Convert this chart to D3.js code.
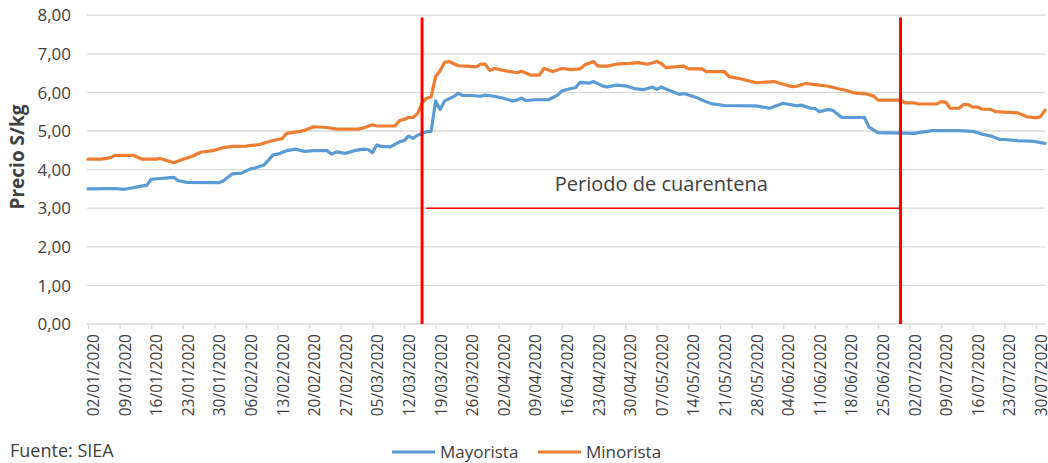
<!DOCTYPE html>
<html><head><meta charset="utf-8">
<script src="https://cdn.jsdelivr.net/npm/d3@7"></script>
<style>
html,body{margin:0;padding:0;background:#fff;}
svg{display:block;}
text{font-family:"Open Sans","DejaVu Sans",sans-serif;fill:#404040;}
</style></head>
<body>
<svg id="chart" width="1048" height="463"></svg>
<script>
const yTicks = [0,1,2,3,4,5,6,7,8];
const xTickLabels = ["02/01/2020","09/01/2020","16/01/2020","23/01/2020","30/01/2020","06/02/2020","13/02/2020","20/02/2020","27/02/2020","05/03/2020","12/03/2020","19/03/2020","26/03/2020","02/04/2020","09/04/2020","16/04/2020","23/04/2020","30/04/2020","07/05/2020","14/05/2020","21/05/2020","28/05/2020","04/06/2020","11/06/2020","18/06/2020","25/06/2020","02/07/2020","09/07/2020","16/07/2020","23/07/2020","30/07/2020"];
const dateDomain = ["2020-01-02","2020-08-01"];
const cuarentena = ["2020-03-16","2020-06-30"];
const cuarentenaNivel = 3;
const seriesNames = ["Mayorista","Minorista"];

const mayorista = [
["2020-01-02",3.50],["2020-01-08",3.51],["2020-01-10",3.49],["2020-01-12",3.53],["2020-01-14",3.58],["2020-01-15",3.59],
["2020-01-16",3.75],["2020-01-18",3.77],["2020-01-21",3.80],["2020-01-22",3.71],["2020-01-24",3.67],["2020-01-31",3.66],
["2020-02-01",3.71],["2020-02-03",3.89],["2020-02-05",3.91],["2020-02-07",4.02],["2020-02-08",4.04],["2020-02-10",4.12],
["2020-02-12",4.38],["2020-02-13",4.40],["2020-02-15",4.49],["2020-02-17",4.53],["2020-02-19",4.47],["2020-02-21",4.49],
["2020-02-24",4.49],["2020-02-25",4.40],["2020-02-26",4.46],["2020-02-28",4.42],["2020-03-01",4.49],["2020-03-03",4.53],
["2020-03-04",4.52],["2020-03-05",4.44],["2020-03-06",4.64],["2020-03-07",4.60],["2020-03-09",4.59],["2020-03-11",4.72],
["2020-03-12",4.75],["2020-03-13",4.87],["2020-03-14",4.81],["2020-03-15",4.89],["2020-03-17",4.98],["2020-03-18",4.99],
["2020-03-19",5.78],["2020-03-20",5.56],["2020-03-21",5.78],["2020-03-23",5.89],["2020-03-24",5.98],["2020-03-25",5.92],
["2020-03-27",5.92],["2020-03-29",5.90],["2020-03-30",5.93],["2020-04-01",5.90],["2020-04-03",5.85],["2020-04-05",5.78],
["2020-04-06",5.80],["2020-04-07",5.85],["2020-04-08",5.79],["2020-04-10",5.81],["2020-04-13",5.81],["2020-04-15",5.93],
["2020-04-16",6.04],["2020-04-18",6.10],["2020-04-19",6.12],["2020-04-20",6.26],["2020-04-22",6.24],["2020-04-23",6.28],
["2020-04-25",6.17],["2020-04-26",6.14],["2020-04-28",6.19],["2020-04-30",6.17],["2020-05-02",6.10],["2020-05-04",6.07],
["2020-05-06",6.14],["2020-05-07",6.08],["2020-05-08",6.14],["2020-05-10",6.04],["2020-05-12",5.95],["2020-05-13",5.97],
["2020-05-16",5.86],["2020-05-17",5.80],["2020-05-19",5.71],["2020-05-22",5.66],["2020-05-29",5.65],["2020-06-01",5.59],
["2020-06-04",5.72],["2020-06-07",5.65],["2020-06-08",5.67],["2020-06-10",5.59],["2020-06-11",5.59],["2020-06-12",5.50],
["2020-06-14",5.56],["2020-06-15",5.53],["2020-06-17",5.35],["2020-06-22",5.35],["2020-06-23",5.10],["2020-06-25",4.96],
["2020-07-03",4.94],["2020-07-07",5.01],["2020-07-13",5.01],["2020-07-16",4.99],["2020-07-18",4.92],["2020-07-20",4.87],
["2020-07-22",4.78],["2020-07-23",4.78],["2020-07-26",4.75],["2020-07-29",4.74],["2020-08-01",4.68]
];

const minorista = [
["2020-01-02",4.27],["2020-01-05",4.27],["2020-01-07",4.31],["2020-01-08",4.37],["2020-01-12",4.37],["2020-01-14",4.27],
["2020-01-17",4.27],["2020-01-18",4.29],["2020-01-21",4.18],["2020-01-23",4.27],["2020-01-25",4.34],["2020-01-27",4.45],
["2020-01-30",4.50],["2020-02-01",4.57],["2020-02-03",4.60],["2020-02-06",4.61],["2020-02-09",4.65],["2020-02-11",4.72],
["2020-02-13",4.78],["2020-02-14",4.80],["2020-02-15",4.94],["2020-02-18",4.99],["2020-02-19",5.02],["2020-02-21",5.11],
["2020-02-24",5.09],["2020-02-26",5.05],["2020-03-02",5.05],["2020-03-03",5.08],["2020-03-05",5.16],["2020-03-06",5.13],
["2020-03-10",5.13],["2020-03-11",5.27],["2020-03-12",5.30],["2020-03-13",5.35],["2020-03-14",5.35],["2020-03-15",5.45],
["2020-03-16",5.72],["2020-03-17",5.85],["2020-03-18",5.88],["2020-03-19",6.41],["2020-03-20",6.56],["2020-03-21",6.78],
["2020-03-22",6.80],["2020-03-24",6.69],["2020-03-26",6.68],["2020-03-28",6.66],["2020-03-29",6.73],["2020-03-30",6.73],
["2020-03-31",6.57],["2020-04-01",6.62],["2020-04-03",6.57],["2020-04-06",6.51],["2020-04-07",6.55],["2020-04-09",6.45],
["2020-04-11",6.45],["2020-04-12",6.62],["2020-04-14",6.54],["2020-04-16",6.62],["2020-04-18",6.59],["2020-04-20",6.61],
["2020-04-21",6.71],["2020-04-23",6.80],["2020-04-24",6.68],["2020-04-26",6.68],["2020-04-28",6.73],["2020-05-01",6.75],
["2020-05-03",6.77],["2020-05-05",6.73],["2020-05-07",6.80],["2020-05-08",6.75],["2020-05-09",6.64],["2020-05-13",6.68],
["2020-05-14",6.61],["2020-05-17",6.61],["2020-05-18",6.54],["2020-05-22",6.54],["2020-05-23",6.41],["2020-05-26",6.34],
["2020-05-29",6.25],["2020-06-02",6.28],["2020-06-04",6.21],["2020-06-06",6.15],["2020-06-07",6.16],["2020-06-09",6.23],
["2020-06-12",6.19],["2020-06-14",6.16],["2020-06-16",6.10],["2020-06-18",6.05],["2020-06-20",5.98],["2020-06-22",5.97],
["2020-06-24",5.91],["2020-06-25",5.80],["2020-06-30",5.80],["2020-07-01",5.73],["2020-07-03",5.73],["2020-07-04",5.70],
["2020-07-08",5.70],["2020-07-09",5.76],["2020-07-10",5.75],["2020-07-11",5.59],["2020-07-13",5.59],["2020-07-14",5.69],
["2020-07-15",5.68],["2020-07-16",5.62],["2020-07-17",5.62],["2020-07-18",5.57],["2020-07-20",5.56],["2020-07-21",5.50],
["2020-07-24",5.48],["2020-07-26",5.47],["2020-07-28",5.37],["2020-07-30",5.34],["2020-07-31",5.37],["2020-08-01",5.54]
];

const colors = {Mayorista:"#5B9BD5", Minorista:"#ED7D31"};
const parse = d3.timeParse("%Y-%m-%d");
const parseLbl = d3.timeParse("%d/%m/%Y");

const svg = d3.select("#chart");
const x = d3.scaleTime().domain(dateDomain.map(parse)).range([88, 1045]);
const y = d3.scaleLinear().domain([0, 8]).range([324, 15.2]);

// gridlines
svg.append("g").selectAll("line").data(yTicks.filter(v => v > 0)).join("line")
  .attr("x1", 87).attr("x2", 1045)
  .attr("y1", d => y(d)).attr("y2", d => y(d))
  .attr("stroke", "#d9d9d9").attr("stroke-width", 1.3);

// y axis labels
const fmt = v => v.toFixed(2).replace(".", ",");
svg.append("g").selectAll("text").data(yTicks).join("text")
  .attr("x", 71).attr("y", d => y(d)).attr("dy", "0.36em")
  .attr("text-anchor", "end").style("font-size", "17px")
  .text(fmt);

// x axis
const xAxis = d3.axisBottom(x)
  .tickValues(xTickLabels.map(parseLbl))
  .tickFormat(d3.timeFormat("%d/%m/%Y"))
  .tickSize(5).tickSizeOuter(0);
const gx = svg.append("g").attr("transform", "translate(0,324)").call(xAxis);
gx.select(".domain").attr("stroke", "#d9d9d9").attr("stroke-width", 1.3).attr("d", "M87,0H1045");
gx.selectAll(".tick line").attr("stroke", "#d9d9d9").attr("stroke-width", 1.3);
gx.selectAll(".tick text")
  .attr("transform", "rotate(-90)")
  .attr("x", -10).attr("y", 0).attr("dy", "0.68em")
  .attr("text-anchor", "end")
  .style("font-size", "15.5px").style("font-family", '"Open Sans",sans-serif').attr("fill", "#404040");

// y-axis title
svg.append("text").attr("transform", "translate(24,157) rotate(-90)")
  .attr("text-anchor", "middle").style("font-size", "19px").style("font-weight", "bold")
  .attr("fill", "#000").text("Precio S/kg");

// lines
const line = d3.line().x(d => x(parse(d[0]))).y(d => y(d[1]));
[["Mayorista", mayorista], ["Minorista", minorista]].forEach(([name, data]) => {
  svg.append("path").datum(data).attr("d", line)
    .attr("fill", "none").attr("stroke", colors[name]).attr("stroke-width", 3.2)
    .attr("stroke-linejoin", "round").attr("stroke-linecap", "round");
});

// quarantine markers
const q = cuarentena.map(parse);
svg.append("g").selectAll("line").data(q).join("line")
  .attr("x1", d => x(d)).attr("x2", d => x(d))
  .attr("y1", y(7.94)).attr("y2", y(0))
  .attr("stroke", "#FF0000").attr("stroke-width", 3);
svg.append("line")
  .attr("x1", x(q[0]) + 4).attr("x2", x(q[1]))
  .attr("y1", y(cuarentenaNivel)).attr("y2", y(cuarentenaNivel))
  .attr("stroke", "#FF0000").attr("stroke-width", 1.6);
svg.append("text")
  .attr("x", (x(q[0]) + x(q[1])) / 2).attr("y", 191)
  .attr("text-anchor", "middle").style("font-size", "20px").attr("fill", "#FF0000")
  .text("Periodo de cuarentena");

// source
svg.append("text").attr("x", 10).attr("y", 457).style("font-size", "18px").attr("fill", "#404040").text("Fuente: SIEA");

// legend
const legendX = [392, 538];
seriesNames.forEach((name, i) => {
  const g = svg.append("g").attr("transform", `translate(${legendX[i]},452)`);
  g.append("line").attr("x1", 0).attr("x2", 43).attr("y1", 0).attr("y2", 0)
    .attr("stroke", colors[name]).attr("stroke-width", 3.2);
  g.append("text").attr("x", 48).attr("y", 0).attr("dy", "0.36em")
    .style("font-size", "17px").attr("fill", "#404040").text(name);
});
</script>
</body></html>
